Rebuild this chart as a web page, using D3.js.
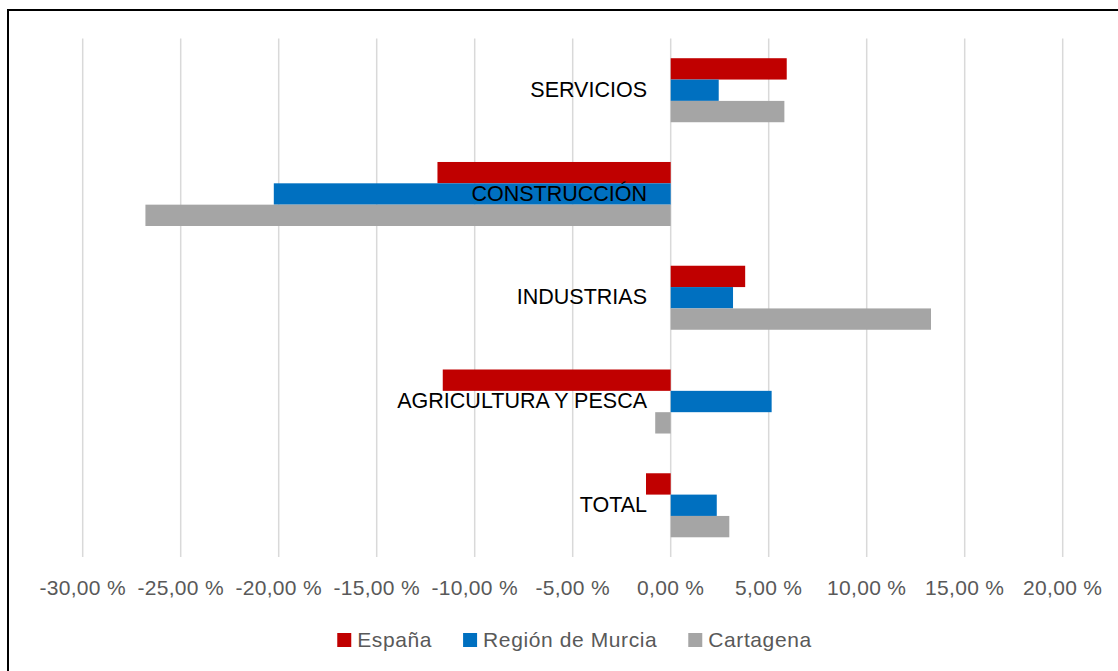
<!DOCTYPE html>
<meta charset="utf-8">
<head>
  <style>
  body { margin: 0; background: #fff; }
  svg { display: block; }
  .grid line { stroke: #d9d9d9; stroke-width: 1.5px; }
  .tick-label { font-family: "Liberation Sans", Arial, sans-serif; font-size: 21px; letter-spacing: 0.3px; fill: #595959; }
  .cat-label { font-family: "Liberation Sans", Arial, sans-serif; font-size: 21.5px; fill: #000; }
  .legend text { font-family: "Liberation Sans", Arial, sans-serif; font-size: 21px; letter-spacing: 0.6px; fill: #595959; }
  </style>
</head>
<body>
<svg width="1118" height="671"></svg>
<script src="https://d3js.org/d3.v7.min.js"></script>
<script>

// categories from top to bottom
var categories = ["SERVICIOS", "CONSTRUCCIÓN", "INDUSTRIAS", "AGRICULTURA Y PESCA", "TOTAL"];
var seriesNames = ["España", "Región de Murcia", "Cartagena"];
var seriesColors = ["#c00000", "#0070c0", "#a5a5a5"];

// values in % (same order as categories)
var espana    = [5.92, -11.9, 3.8, -11.63, -1.26];
var murcia    = [2.45, -20.25, 3.18, 5.15, 2.35];
var cartagena = [5.8, -26.8, 13.28, -0.79, 2.99];

var xTicks = [-30, -25, -20, -15, -10, -5, 0, 5, 10, 15, 20];

var svg = d3.select("svg"),
    width = +svg.attr("width"),
    height = +svg.attr("height");

// frame (only top and left edges are visible in the picture)
svg.append("path")
    .attr("d", "M8," + height + " V10 H" + width)
    .attr("fill", "none")
    .attr("stroke", "#000")
    .attr("stroke-width", 2);

var x = d3.scaleLinear()
    .domain([-30, 20])
    .range([82.7, 1062.7]);

var y = d3.scaleBand()
    .domain(categories)
    .range([38.5, 557])
    .paddingInner(0.383)
    .paddingOuter(0.19);

var ySub = d3.scaleBand()
    .domain(seriesNames)
    .range([0, y.bandwidth()]);

// gridlines
svg.append("g")
    .attr("class", "grid")
    .selectAll("line")
    .data(xTicks)
    .enter().append("line")
    .attr("x1", function(d) { return x(d); })
    .attr("x2", function(d) { return x(d); })
    .attr("y1", 38.5)
    .attr("y2", 557);

// tick labels
svg.append("g")
    .selectAll("text")
    .data(xTicks)
    .enter().append("text")
    .attr("class", "tick-label")
    .attr("x", function(d) { return x(d); })
    .attr("y", 595)
    .attr("text-anchor", "middle")
    .text(function(d) { return d3.format(".2f")(d).replace(".", ",").replace("−", "-") + " %"; });

// bars
var seriesData = [espana, murcia, cartagena];
var rows = [];
categories.forEach(function(c, i) {
  seriesNames.forEach(function(s, j) {
    rows.push({cat: c, series: s, value: seriesData[j][i], color: seriesColors[j]});
  });
});

svg.append("g")
    .selectAll("rect")
    .data(rows)
    .enter().append("rect")
    .attr("x", function(d) { return x(Math.min(0, d.value)); })
    .attr("width", function(d) { return Math.abs(x(d.value) - x(0)); })
    .attr("y", function(d) { return y(d.cat) + ySub(d.series); })
    .attr("height", ySub.bandwidth())
    .attr("fill", function(d) { return d.color; });

// category labels
svg.append("g")
    .selectAll("text")
    .data(categories)
    .enter().append("text")
    .attr("class", "cat-label")
    .attr("x", 647)
    .attr("y", function(d) { return y(d) + y.bandwidth() / 2 - 1; })
    .attr("dy", "0.35em")
    .attr("text-anchor", "end")
    .text(function(d) { return d; });

// legend
var legend = svg.append("g").attr("class", "legend");
var items = legend.selectAll("g")
    .data(seriesNames)
    .enter().append("g");

items.append("rect")
    .attr("width", 14)
    .attr("height", 14)
    .attr("y", 633)
    .attr("fill", function(d, i) { return seriesColors[i]; });

items.append("text")
    .attr("x", 20)
    .attr("y", 647)
    .text(function(d) { return d; });

var pos = 0;
items.each(function() {
  var g = d3.select(this);
  g.attr("transform", "translate(" + pos + ",0)");
  pos += 20 + g.select("text").node().getComputedTextLength() + 31;
});
var total = pos - 31;
legend.attr("transform", "translate(" + (574.5 - total / 2) + ",0)");

</script>
</body>
